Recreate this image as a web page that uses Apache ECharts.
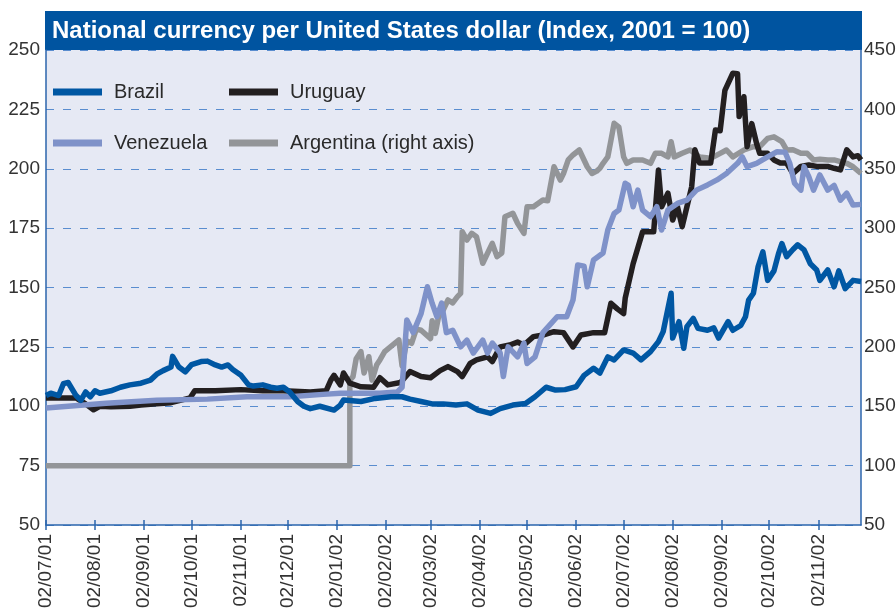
<!DOCTYPE html>
<html>
<head>
<meta charset="utf-8">
<script src="https://cdn.jsdelivr.net/npm/echarts@6/dist/echarts.min.js"></script>
<style>
html,body{margin:0;padding:0;background:#fff}
#chart{width:896px;height:608px}
</style>
</head>
<body>
<div id="chart"></div>
<script>
// ticks on the 2nd of every month, labels dd/mm/yy
var tickDates = ['2001-07-02','2001-08-02','2001-09-02','2001-10-02','2001-11-02','2001-12-02',
  '2002-01-02','2002-02-02','2002-03-02','2002-04-02','2002-05-02','2002-06-02',
  '2002-07-02','2002-08-02','2002-09-02','2002-10-02','2002-11-02'];

var brazilDates = ['2001-07-02','2001-07-05','2001-07-10','2001-07-13','2001-07-16','2001-07-21','2001-07-24','2001-07-27','2001-07-30','2001-08-02',
  '2001-08-05','2001-08-12','2001-08-18','2001-08-24','2001-08-31','2001-09-06','2001-09-10','2001-09-14','2001-09-19','2001-09-20',
  '2001-09-24','2001-09-28','2001-10-02','2001-10-08','2001-10-12','2001-10-17','2001-10-21','2001-10-25','2001-10-28','2001-11-02',
  '2001-11-07','2001-11-10','2001-11-16','2001-11-21','2001-11-25','2001-11-29','2001-12-03','2001-12-08','2001-12-12','2001-12-16',
  '2001-12-22','2001-12-31','2002-01-04','2002-01-06','2002-01-17','2002-01-26','2002-02-05','2002-02-12','2002-02-17','2002-02-24',
  '2002-03-03','2002-03-10','2002-03-18','2002-03-25','2002-04-01','2002-04-09','2002-04-15','2002-04-23','2002-05-01','2002-05-07',
  '2002-05-14','2002-05-20','2002-05-26','2002-06-02','2002-06-07','2002-06-13','2002-06-17','2002-06-22','2002-06-26','2002-07-02',
  '2002-07-08','2002-07-13','2002-07-19','2002-07-24','2002-07-27','2002-08-01','2002-08-02','2002-08-06','2002-08-09','2002-08-11',
  '2002-08-15','2002-08-18','2002-08-24','2002-08-28','2002-08-31','2002-09-06','2002-09-09','2002-09-14','2002-09-17','2002-09-19',
  '2002-09-22','2002-09-25','2002-09-28','2002-10-01','2002-10-05','2002-10-08','2002-10-10','2002-10-13','2002-10-17','2002-10-20',
  '2002-10-24','2002-10-28','2002-11-01','2002-11-03','2002-11-08','2002-11-12','2002-11-15','2002-11-19','2002-11-24','2002-11-29'];
var brazilValues = [104.5,105.5,104.5,109.5,110,104.5,102.5,106,104,106.5,
  105.5,106.5,108,109,109.7,111,113.5,115,116.5,121,
  116.5,114.5,117.5,118.8,119,117.4,116.5,117.4,115.5,113.2,
  109,108.5,109,108,107.6,108,106,102,100,99,
  100,98.4,100.5,102.6,102,103.3,104,104,103,102,
  101,101,100.5,101,98.4,97,99,100.5,101.2,104,
  108,106.8,107,108.2,113,116,114,120.8,119.5,123.7,
  122.4,119.5,123,127.2,131.4,147.6,128.7,135.6,124.4,133.5,
  137,132.8,132,133,128.7,135.6,132,134,137.7,144.7,
  147.6,158.8,165,153,157,164.5,168.5,163,166,168,
  165.8,160,157.4,153,157.4,150.3,157,149.5,153,152.5];

var uruguayDates = ['2001-07-02','2001-07-10','2001-07-21','2001-07-27','2001-08-01','2001-08-05','2001-08-12','2001-08-24','2001-08-31','2001-09-10',
  '2001-09-19','2001-09-28','2001-10-01','2001-10-04','2001-10-17','2001-11-02','2001-11-16','2001-11-29','2001-12-16','2001-12-26',
  '2001-12-29','2001-12-31','2002-01-04','2002-01-06','2002-01-10','2002-01-17','2002-01-25','2002-01-29','2002-02-03','2002-02-11',
  '2002-02-17','2002-02-24','2002-03-02','2002-03-08','2002-03-13','2002-03-19','2002-03-22','2002-03-27','2002-03-31','2002-04-07',
  '2002-04-10','2002-04-15','2002-04-21','2002-04-26','2002-04-30','2002-05-06','2002-05-12','2002-05-19','2002-05-25','2002-05-31',
  '2002-06-05','2002-06-13','2002-06-20','2002-06-24','2002-06-28','2002-07-02','2002-07-03','2002-07-08','2002-07-14','2002-07-21',
  '2002-07-24','2002-07-26','2002-07-30','2002-08-02','2002-08-05','2002-08-08','2002-08-11','2002-08-14','2002-08-16','2002-08-19',
  '2002-08-26','2002-08-29','2002-09-01','2002-09-04','2002-09-09','2002-09-12','2002-09-13','2002-09-16','2002-09-18','2002-09-21',
  '2002-09-24','2002-09-26','2002-10-01','2002-10-05','2002-10-09','2002-10-13','2002-10-17','2002-10-22','2002-10-27','2002-11-01',
  '2002-11-08','2002-11-12','2002-11-16','2002-11-20','2002-11-24','2002-11-27','2002-11-29'];
var uruguayValues = [103.5,103.5,103.5,101,98.5,100,99.8,100,100.5,101,
  101.5,103,103.5,106.5,106.5,107,106.5,106.5,106,106.5,
  111,113,109,114,109.7,108.2,108,112,109,110,
  114.6,112.5,112,115,116.7,114.6,112.5,118,119.5,120.8,
  118.8,125,125.8,127,125.8,129.3,130,131.4,131,125,
  130,131,131,143.4,141,139,145.5,160,173.5,173.5,
  199.5,184,189.7,178.4,184,175.6,184,192.4,208,202.4,
  202.4,216.3,216,233,240.2,240,222,230.3,209.3,219,
  210.7,206.5,206.5,203.7,202.4,202.4,198,201,201.6,201,
  201,200.2,199.5,208,205,205.5,203.7];

var venezuelaDates = ['2001-07-02','2001-08-09','2001-09-10','2001-10-12','2001-11-06','2001-12-03','2001-12-24','2002-01-04','2002-01-17','2002-01-29',
  '2002-02-09','2002-02-12','2002-02-15','2002-02-19','2002-02-24','2002-02-28','2002-03-03','2002-03-06','2002-03-09','2002-03-12',
  '2002-03-16','2002-03-21','2002-03-25','2002-03-29','2002-04-04','2002-04-07','2002-04-10','2002-04-15','2002-04-17','2002-04-20',
  '2002-04-26','2002-04-30','2002-05-02','2002-05-07','2002-05-12','2002-05-21','2002-05-27','2002-05-31','2002-06-03','2002-06-07',
  '2002-06-09','2002-06-13','2002-06-19','2002-06-22','2002-06-26','2002-06-29','2002-07-03','2002-07-05','2002-07-08','2002-07-11',
  '2002-07-14','2002-07-19','2002-07-23','2002-07-26','2002-07-30','2002-08-05','2002-08-11','2002-08-17','2002-08-24','2002-08-30',
  '2002-09-05','2002-09-12','2002-09-15','2002-09-18','2002-09-24','2002-10-01','2002-10-07','2002-10-12','2002-10-15','2002-10-18',
  '2002-10-22','2002-10-24','2002-10-27','2002-10-30','2002-11-03','2002-11-08','2002-11-12','2002-11-16','2002-11-20','2002-11-24',
  '2002-11-29'];
var venezuelaValues = [99.3,101.3,102.5,103,104,104,105,105.5,105.5,105.5,
  106,108,136.3,131,139,150.3,143.4,137.7,143.4,131,
  132,125,127.8,122.4,127.8,122.4,126.6,122.4,112.5,125,
  120.8,126.6,118,120.8,131,137.7,137.7,144.7,159.5,159,
  150.3,161.6,164.5,174.2,181.2,182.6,193.9,193,184,191,
  182.6,179.8,184,174.2,182.6,185.4,186.8,191,193.2,195.3,
  198,202.3,205,200.9,202.3,205,207.2,207,202.3,193.9,
  191,200.9,196.7,191,197.4,191,193,186.8,189.7,184.7,
  185];

// Argentina is read on the right axis
var argentinaDates = ['2001-07-02','2002-01-10','2002-01-10','2002-01-12','2002-01-14','2002-01-17','2002-01-19','2002-01-22','2002-01-24','2002-01-27',
  '2002-01-29','2002-02-01','2002-02-10','2002-02-12','2002-02-15','2002-02-18','2002-02-21','2002-02-24','2002-03-02','2002-03-03',
  '2002-03-05','2002-03-07','2002-03-10','2002-03-13','2002-03-16','2002-03-19','2002-03-21','2002-03-22','2002-03-25','2002-03-28',
  '2002-03-31','2002-04-03','2002-04-04','2002-04-07','2002-04-10','2002-04-13','2002-04-16','2002-04-18','2002-04-23','2002-04-26',
  '2002-04-30','2002-05-02','2002-05-06','2002-05-12','2002-05-15','2002-05-19','2002-05-23','2002-05-25','2002-05-28','2002-05-31',
  '2002-06-04','2002-06-09','2002-06-12','2002-06-15','2002-06-17','2002-06-19','2002-06-22','2002-06-24','2002-06-26','2002-06-29',
  '2002-07-02','2002-07-04','2002-07-08','2002-07-14','2002-07-19','2002-07-22','2002-07-26','2002-07-30','2002-08-01','2002-08-03',
  '2002-08-08','2002-08-13','2002-08-19','2002-08-26','2002-09-01','2002-09-05','2002-09-09','2002-09-16','2002-09-22','2002-09-26',
  '2002-10-01','2002-10-05','2002-10-10','2002-10-13','2002-10-17','2002-10-22','2002-10-26','2002-10-30','2002-11-03','2002-11-08',
  '2002-11-12','2002-11-16','2002-11-20','2002-11-24','2002-11-29'];
var argentinaValues = [100,100,172,175,190,196,178,191.7,172,185,
  189,196,205.8,184,205,203,215,214,207,222,
  211.4,225,231,239.5,237,242.3,245,297,290,295.6,
  292.8,276,270.4,278.8,287.2,276,279,309.6,312.5,304,
  295.6,318,318,323.7,323,351.7,340.5,346,357.4,361.6,
  365.8,351.7,346,348,350.4,354.6,360,374,388.3,385,
  360,354.6,357.4,357.4,354.6,363,363,360,372.8,360,
  363,365.8,360,358.8,363,365.8,360,365.8,368.6,368.6,
  375.6,376.9,372.8,365.8,366,363,363,357.4,358,357.4,
  357.4,356,354.6,351.7,346];

var FONT = '"Liberation Sans", Arial, sans-serif';
var AXIS_BLUE = '#2b65ad';

// dates go onto a numeric axis as timestamps, so ticks can sit on the 2nd of each month
function ts(s) { return echarts.time.parse(s).getTime(); }
function pairs(dates, values) {
  return dates.map(function (d, i) { return [ts(d), values[i]]; });
}
function pad(n) { return (n < 10 ? '0' : '') + n; }
function fmtDate(v) {
  var d = new Date(v);
  return pad(d.getDate()) + '/' + pad(d.getMonth() + 1) + '/' + pad(d.getFullYear() % 100);
}
var tickValues = tickDates.map(ts);
var xMin = ts('2001-07-02');
var xMax = ts('2002-11-29');

function legendAt(name, left, top) {
  return {
    data: [name], left: left, top: top, padding: 0,
    icon: 'rect', itemWidth: 49, itemHeight: 7,
    textStyle: { fontFamily: FONT, fontSize: 20, lineHeight: 24, color: '#2a2a2a', padding: [0, 0, 0, 7] },
    selectedMode: false
  };
}

var myChart = echarts.init(document.getElementById('chart'));
var option = {
  animation: false,
  backgroundColor: '#fff',
  grid: { left: 46, right: 35, top: 50, bottom: 83, outerBoundsMode: 'none', containLabel: false,
    show: true, backgroundColor: '#e6e9f4', borderWidth: 0 },
  legend: [
    legendAt('Brazil', 53, 80),
    legendAt('Uruguay', 229, 80),
    legendAt('Venezuela', 53, 131),
    legendAt('Argentina (right axis)', 229, 131)
  ],
  graphic: [{
    type: 'group', left: 45, top: 11,
    children: [
      { type: 'rect', shape: { x: 0, y: 0, width: 817, height: 39 }, style: { fill: '#0054a0' } },
      { type: 'text', x: 7, y: 20, style: {
          text: 'National currency per United States dollar (Index, 2001 = 100)',
          fill: '#fff', fontSize: 24, fontWeight: 'bold',
          fontFamily: FONT, verticalAlign: 'middle' } }
    ]
  }],
  xAxis: [{
    type: 'value', min: xMin, max: xMax, position: 'bottom',
    axisLine: { lineStyle: { color: AXIS_BLUE, width: 1.5 } },
    axisTick: { show: true, length: 5, customValues: tickValues, lineStyle: { color: AXIS_BLUE, width: 1.5 } },
    axisLabel: { customValues: tickValues, rotate: 90, margin: 9, formatter: fmtDate,
      fontFamily: FONT, fontSize: 19, color: '#333' },
    splitLine: { show: false }
  }, {
    type: 'value', min: xMin, max: xMax, position: 'bottom',
    axisLine: { show: false },
    axisTick: { show: true, inside: true, length: 5, customValues: tickValues, lineStyle: { color: AXIS_BLUE, width: 1.5 } },
    axisLabel: { show: false },
    splitLine: { show: false }
  }],
  yAxis: [{
    type: 'value', min: 50, max: 250, interval: 25, position: 'left',
    axisLine: { show: true, lineStyle: { color: AXIS_BLUE, width: 1.5 } },
    axisTick: { show: false },
    axisLabel: { margin: 6, fontFamily: FONT, fontSize: 19, color: '#333' },
    splitLine: { show: true, lineStyle: { color: '#5a8dcf', width: 1.2, type: [8, 9] } }
  }, {
    type: 'value', min: 50, max: 450, interval: 50, position: 'right',
    axisLine: { show: true, lineStyle: { color: AXIS_BLUE, width: 1.5 } },
    axisTick: { show: false },
    axisLabel: { margin: 3, fontFamily: FONT, fontSize: 19, color: '#333' },
    splitLine: { show: false }
  }],
  series: [
    { name: 'Argentina (right axis)', type: 'line', yAxisIndex: 1, showSymbol: false,
      data: pairs(argentinaDates, argentinaValues), color: '#939598',
      lineStyle: { width: 5.5, join: 'round' } },
    { name: 'Uruguay', type: 'line', showSymbol: false,
      data: pairs(uruguayDates, uruguayValues), color: '#231f20',
      lineStyle: { width: 5.5, join: 'round' } },
    { name: 'Venezuela', type: 'line', showSymbol: false,
      data: pairs(venezuelaDates, venezuelaValues), color: '#7f92c9',
      lineStyle: { width: 5.5, join: 'round' } },
    { name: 'Brazil', type: 'line', showSymbol: false,
      data: pairs(brazilDates, brazilValues), color: '#0057a3',
      lineStyle: { width: 5.5, join: 'round' } }
  ]
};
myChart.setOption(option);
</script>
</body>
</html>
